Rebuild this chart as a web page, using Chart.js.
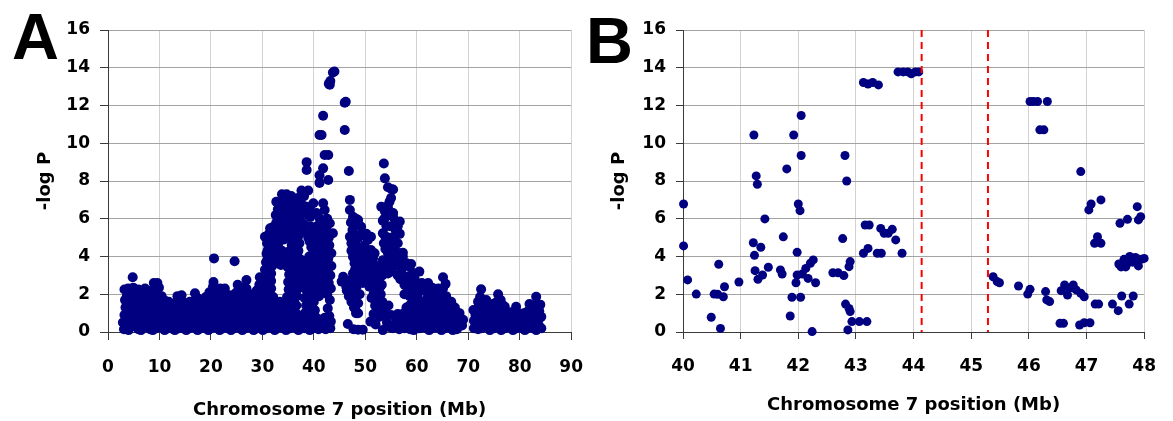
<!DOCTYPE html>
<html><head><meta charset="utf-8">
<script src="https://cdn.jsdelivr.net/npm/chart.js@4.4.1/dist/chart.umd.min.js"></script>
<style>
html,body{margin:0;padding:0;background:#fff;}
#wrap{position:relative;width:1173px;height:421px;overflow:hidden;background:#fff;}
canvas{position:absolute;top:0;}
#cA{left:0;}
#cB{left:583px;}
.lbl{position:absolute;font-family:'Liberation Sans',Arial,sans-serif;font-weight:bold;font-size:65px;line-height:65px;color:#000;}
</style></head><body>
<div id="wrap">
<canvas id="cA" width="600" height="421" style="width:600px;height:421px"></canvas>
<canvas id="cB" width="590" height="421" style="width:590px;height:421px"></canvas>
<div class="lbl" style="left:12px;top:4px;">A</div>
<div class="lbl" style="left:586px;top:8px;">B</div>
</div>
<script>
// ---- Data (position in Mb, -log P) ----
const ticksA_x = [0,10,20,30,40,50,60,70,80,90];
const ticksB_x = [40,41,42,43,44,45,46,47,48];
const ticks_y = [0,2,4,6,8,10,12,14,16];
const gapB = [44.14, 45.29];
const xTitle = 'Chromosome 7 position (Mb)';
const yTitle = '-log P';

const scanA_p = [
[2.9,0.5],[3.1,0.15],[3.2,0.9],[3.4,1.3],[3.3,1.7],[3.2,2.25],[3.9,2.3],
[4.0,0.1],[4.2,0.55],[4.1,1.0],[4.4,1.5],[4.8,2.9],[4.9,2.35],[4.6,1.9],
[5.3,0.3],[5.5,0.75],[5.4,1.2],[5.7,1.65],[5.9,2.25],
[6.4,0.1],[6.6,0.5],[6.5,0.95],[6.8,1.4],[6.9,1.9],[7.2,2.3],
[7.6,0.25],[7.8,0.7],[7.7,1.15],[8.0,1.6],[8.2,2.0],
[8.7,0.1],[8.9,0.55],[8.8,1.0],[9.0,1.45],[9.1,1.95],[9.2,2.45],[9.6,2.6],[8.9,2.6],
[9.9,0.3],[10.1,0.75],[10.0,1.2],[10.3,1.6],[10.4,1.9],
[11.0,0.1],[11.2,0.5],[11.1,0.95],[11.4,1.35],[11.8,1.6],
[12.2,0.3],[12.4,0.75],[12.3,1.2],
[13.0,0.1],[13.3,0.55],[13.1,1.0],[13.4,1.45],[13.6,1.7],
[14.2,0.3],[14.4,0.75],[14.3,1.2],[14.1,1.6],[14.3,1.95],
[15.2,0.1],[15.4,0.5],[15.3,0.95],[15.0,1.5],[15.9,1.6],
[16.3,0.3],[16.5,0.75],[16.4,1.2],[16.8,1.65],[16.9,2.05],
[17.4,0.1],[17.6,0.55],[17.5,1.0],[17.9,1.45],[18.0,1.6],
[18.6,0.3],[18.8,0.75],[18.7,1.2],[18.9,1.55],
[19.5,0.1],[19.7,0.55],[19.6,1.0],[19.8,1.4],[19.6,1.75],[19.7,2.1],[20.4,2.4],[20.5,2.65],[20.6,3.9],
[20.6,0.3],[20.8,0.75],[20.7,1.2],[21.0,1.6],[21.2,2.0],
[21.7,0.1],[21.9,0.55],[21.8,1.0],[22.0,1.4],[21.8,2.3],[22.2,1.85],
[22.8,0.3],[23.0,0.75],[22.9,1.2],[22.7,2.3],[23.1,1.65],
[23.9,0.1],[24.1,0.5],[24.0,0.95],[24.2,1.4],[24.3,1.9],[24.6,3.75],
[25.0,0.3],[25.2,0.75],[25.1,1.2],[25.4,1.65],[25.0,2.1],[25.2,2.5],
[26.1,0.1],[26.3,0.55],[26.2,1.0],[26.5,1.45],[26.4,1.9],[26.9,2.3],[26.9,2.75],
[27.2,0.3],[27.4,0.75],[27.3,1.2],[27.6,1.6],[27.8,2.0],
[28.3,0.1],[28.5,0.55],[28.4,1.0],[28.7,1.45],[28.8,1.85],[28.9,2.2],
[29.4,0.3],[29.6,0.75],[29.5,1.2],[29.5,1.65],[29.5,2.1],[29.4,2.5],[29.5,2.9]
];

const fillA_p = [
[3.6,0.3],[3.6,0.7],[3.7,1.1],[3.8,1.55],[3.7,1.95],
[4.7,0.3],[4.7,0.75],[4.8,1.2],[5.0,1.6],[5.2,2.0],
[5.9,0.15],[5.9,0.5],[6.0,0.9],[6.1,1.3],[6.3,1.75],[6.4,2.1],
[7.0,0.3],[7.1,0.75],[7.2,1.15],[7.4,1.55],[7.5,1.95],
[8.2,0.15],[8.3,0.45],[8.3,0.85],[8.4,1.25],[8.6,1.7],[8.5,2.2],
[9.4,0.2],[9.5,0.65],[9.5,1.05],[9.6,1.5],[9.9,1.85],[9.9,2.35],
[10.6,0.2],[10.6,0.55],[10.7,0.95],[10.8,1.35],[10.9,1.7],
[11.7,0.2],[11.7,0.75],[11.9,1.15],[12.2,1.5],
[12.7,0.15],[12.8,0.5],[12.8,0.95],[12.9,1.4],
[13.8,0.2],[13.8,0.65],[13.9,1.05],[13.8,1.45],[13.5,1.9],
[14.8,0.2],[14.9,0.65],[14.8,1.1],[14.7,1.55],
[15.9,0.2],[15.9,0.55],[15.9,1.0],[16.3,1.6],
[17.0,0.2],[17.0,0.65],[17.0,1.05],[17.3,1.45],[17.4,1.8],
[18.1,0.2],[18.2,0.65],[18.2,1.05],[18.4,1.45],
[19.1,0.2],[19.2,0.6],[19.2,1.05],[19.3,1.5],[19.0,1.85],
[20.1,0.2],[20.2,0.6],[20.2,1.05],[20.3,1.5],[20.2,1.95],
[21.3,0.2],[21.3,0.65],[21.3,1.05],[21.5,1.5],[21.6,1.95],
[22.4,0.2],[22.4,0.65],[22.4,1.05],[22.5,1.5],[22.6,1.95],
[23.4,0.2],[23.5,0.6],[23.5,1.05],[23.6,1.5],[23.6,1.95],
[24.6,0.2],[24.6,0.65],[24.6,1.05],[24.7,1.55],[24.6,2.0],
[25.7,0.2],[25.7,0.65],[25.7,1.05],[25.9,1.5],[25.8,1.95],[25.8,2.35],
[26.8,0.2],[26.8,0.65],[26.8,1.05],[27.0,1.5],[27.1,1.95],
[27.9,0.2],[27.9,0.65],[27.9,1.05],[28.1,1.5],[28.2,1.9],
[29.0,0.2],[29.0,0.65],[29.0,1.05],[29.1,1.5],[29.0,1.95]
];

const scanA_q = [
[30.1,0.1],[30.3,0.5],[30.2,0.9],[30.4,1.3],[30.3,1.7],[30.2,2.1],[30.4,2.5],[30.6,2.9],[30.5,3.3],[30.7,3.7],[30.8,4.15],[30.5,5.05],
[31.2,0.3],[31.4,0.75],[31.3,1.2],[31.5,1.6],[31.4,2.0],[31.2,2.4],[31.5,2.8],[31.3,3.2],[31.6,3.6],[31.4,4.0],[31.2,4.4],[31.5,4.8],[31.3,5.2],[31.5,5.5],[32.0,5.55],
[32.4,0.1],[32.6,0.55],[32.5,1.0],[32.3,1.45],[32.1,1.85],[32.1,3.6],[32.4,4.0],[32.6,4.45],[32.3,4.9],[32.6,5.3],[32.7,5.8],[32.6,6.2],[32.7,6.9],[33.0,6.5],
[33.5,0.3],[33.7,0.75],[33.6,1.2],[33.4,1.6],[33.6,3.55],[33.4,3.95],[33.8,4.3],[33.3,4.8],[33.6,5.2],[33.4,5.65],[33.7,6.05],[33.4,6.4],[33.6,6.8],[33.8,7.3],
[34.6,0.1],[34.8,0.5],[34.7,0.95],[34.9,1.4],[34.8,1.85],[35.1,2.25],[35.0,2.65],[35.2,3.05],[34.9,3.45],[35.2,3.85],[35.1,4.25],[35.3,5.0],[35.0,5.4],[34.7,5.7],[35.2,5.95],[34.9,6.35],[35.1,6.75],[34.7,7.3],[35.6,7.2],
[35.8,0.3],[36.0,0.75],[35.9,1.2],[36.2,1.6],[36.0,2.0],[36.3,2.4],[36.1,2.8],[36.3,3.2],[36.1,3.6],[36.4,4.0],[36.2,4.4],[36.5,4.8],[36.3,5.2],[36.0,5.6],[36.4,6.0],[36.2,6.4],[36.6,6.8],[36.9,7.1],
[37.0,0.1],[37.2,0.5],[36.9,0.9],[37.0,2.3],[37.2,2.7],[37.0,3.1],[37.3,3.5],[37.1,3.9],[37.0,4.3],[37.2,4.7],[37.0,5.1],[37.3,5.5],[37.1,5.9],[37.4,6.3],[37.3,7.0],[37.6,7.5],[37.6,6.7],
[38.2,0.2],[38.4,0.6],[38.3,1.0],[38.5,1.4],[38.2,1.8],[38.6,2.2],[38.4,2.6],[38.7,3.0],[38.5,3.4],[38.9,5.0],[38.3,5.65],[38.0,6.3],[38.9,6.2],[38.6,6.64],[38.9,7.5],[38.6,8.58],[38.6,9.0],
[39.2,0.1],[39.5,0.5],[39.3,0.9],[39.6,1.3],[39.4,1.7],[39.7,2.1],[39.5,2.5],[39.8,2.9],[39.6,3.3],[39.4,3.7],[39.7,4.1],[39.5,4.5],[39.8,4.9],[39.6,5.3],[39.9,6.82],
[40.1,0.35],[40.5,0.75],[40.2,1.15],[40.0,1.6],[40.1,2.0],[40.4,2.4],[40.2,2.9],[40.4,3.3],[40.3,3.8],[40.6,4.2],[40.4,4.6],[40.3,5.1],
[40.9,0.15],[41.6,0.4],[42.3,0.15],[42.8,0.55],[43.2,0.2],[41.0,1.9],[41.3,2.3],[41.1,2.7],[41.4,3.1],[41.2,3.5],[41.5,3.9],[41.3,4.3],[41.6,4.7],[41.4,5.05],
[41.1,6.02],[41.8,6.82],[42.1,6.46],[41.9,5.6],[42.2,5.2],[42.0,4.8],[42.3,4.4],[42.1,4.0],[42.4,3.6],[42.2,3.2],[42.5,2.8],[42.3,2.4],[42.6,2.0],
[42.8,4.52],[43.1,5.76],[43.7,5.23],[43.4,4.17],[42.9,5.0],[42.7,1.25],[43.0,0.85],[43.1,1.7],[43.3,2.3],[43.2,3.0],[43.4,3.5],
[41.1,10.44],[41.5,10.44],[41.8,11.46],[42.1,9.38],[42.8,9.38],[41.8,8.67],[41.1,8.3],[41.1,7.9],[42.8,8.05],
[43.1,13.1],[43.2,13.3],[43.7,13.75],[44.0,13.8],[42.9,13.15],
[45.7,2.93],[45.4,2.67],[46.0,12.15],[46.2,12.2],[46.0,10.7],[46.3,2.4],[46.6,0.42],
[46.4,2.2],[46.8,1.9],[47.3,1.6],[47.8,1.3],[48.2,1.0],[46.6,2.4],[47.0,2.05],[47.6,1.7],[47.9,1.7],[48.3,2.4],[48.9,2.0],[49.5,2.6],
[48.6,1.52],[48.0,1.25],[48.6,0.99],[48.6,0.12],[49.5,0.12],[47.7,0.15],
[46.8,8.53],[47.0,7.0],[47.0,6.46],[47.6,6.11],[48.6,5.93],[49.2,5.58],[48.0,5.66],[47.0,5.05],[47.3,4.7],[47.6,3.99],[47.9,3.64],[48.6,3.46],[49.2,3.11],
[47.3,4.3],[47.5,5.4],[48.2,6.0],[48.3,4.0],[48.5,3.0],[48.0,2.6],[47.3,2.4],[46.8,2.7],[48.9,4.4],[48.6,5.0],[49.0,3.8],
[49.5,5.23],[50.5,4.87],[51.1,5.05],[51.1,4.34],[51.8,4.17],[50.2,5.2],[49.8,4.6],[50.3,4.2],[50.8,3.8],[50.2,3.4],[51.3,3.6],[51.8,3.1],[50.6,3.0],[49.9,2.9],
[50.8,2.4],[51.3,2.6],[51.6,2.0],[52.2,2.4],[52.8,2.9],[52.5,3.5],[52.3,3.3],[52.2,1.6],[51.2,1.8],[51.0,0.55],[52.0,0.4],[52.7,0.8],[51.6,0.95],[52.6,1.25],
[53.6,8.93],[53.8,8.14],[54.4,7.67],[55.1,7.56],[55.4,7.55],[54.4,6.6],[53.8,6.4],[53.4,5.9],[55.4,6.3],[56.7,5.85],[56.7,5.2],[56.3,4.7],[57.3,4.2],
[53.1,6.64],[54.1,6.64],[55.4,6.11],[55.7,5.7],[56.4,5.23],[53.4,5.23],[53.6,4.7],[54.4,4.17],[55.7,4.52],[56.7,4.17],[57.3,3.99],[54.1,5.6],[54.8,5.0],[55.3,4.9],
[53.4,3.8],[54.0,3.4],[53.3,3.0],[54.6,3.6],[55.1,3.2],[56.0,3.7],[53.9,4.4],[55.0,4.3],[55.8,5.1],[56.2,4.2],[56.8,2.8],[57.0,3.3],[56.3,3.0],
[53.2,2.5],[53.0,2.0],[53.3,1.6],[53.8,1.2],[54.5,1.4],[55.0,0.9],[53.4,0.1],[54.2,0.5],[55.3,0.2],[56.0,0.55],[56.6,0.15],[56.3,0.95],[57.2,0.6],[57.5,1.0],
[58.0,3.64],[58.6,3.46],[59.3,3.11],[58.9,3.6],[57.9,2.9],[58.2,2.4],[59.0,2.7],[59.8,2.4],[57.6,2.0],[58.6,1.9],[59.5,1.8],[58.2,0.3],[58.8,0.75],[58.0,1.3],[59.1,1.25],[59.4,0.1],[59.9,0.55],[60.0,1.0]
];

const fillA_q = [
[30.9,0.2],[30.9,0.6],[30.9,1.0],[30.9,1.45],[30.9,1.85],[30.9,2.25],[31.0,2.65],[31.0,3.05],[31.0,3.45],[31.0,3.85],[31.0,4.3],[30.9,4.7],
[31.9,0.2],[31.9,0.6],[31.9,1.0],[31.9,1.45],[31.8,1.85],[31.7,2.3],[31.7,2.7],[31.7,3.1],[31.9,3.5],[31.9,3.9],[31.9,4.3],[31.9,4.7],[32.0,5.1],
[33.0,0.2],[33.0,0.6],[33.0,1.05],[33.0,1.5],[32.9,3.8],[33.0,4.2],[33.0,4.6],[33.0,5.0],[33.0,5.4],[33.1,5.85],[33.2,6.2],
[34.1,0.2],[34.1,0.6],[34.1,1.05],[34.1,1.5],[34.3,3.6],[34.2,4.0],[34.2,4.9],[34.1,5.3],[34.1,5.75],[34.2,6.15],[34.2,6.6],[34.2,7.0],
[35.4,0.2],[35.4,0.6],[35.4,1.0],[35.5,1.4],[35.6,1.8],[35.6,2.6],[35.6,3.4],[35.7,4.2],[35.7,4.6],[35.8,5.4],[35.6,6.2],[35.7,6.9],
[36.6,0.2],[36.6,0.6],[36.5,1.0],[36.6,1.4],[36.7,1.9],[36.7,2.6],[36.7,3.4],[36.8,4.2],[36.8,5.0],[36.7,5.7],[36.9,6.5],
[37.7,0.2],[37.8,0.65],[37.7,2.5],[37.8,2.9],[37.8,3.3],[37.7,3.8],[37.8,5.3],[37.7,5.8],[37.9,6.7],[38.1,7.2],
[38.9,0.2],[38.9,0.6],[38.8,1.0],[39.0,1.5],[38.9,1.9],[39.0,2.4],[39.1,2.8],[39.0,3.2],[39.1,4.0],[39.2,4.8],[39.3,5.6],[39.3,6.1],[39.2,6.6],
[39.9,0.2],[39.9,0.6],[40.0,1.0],[40.6,1.9],[40.7,2.7],[40.7,3.4],[40.9,3.9],[40.8,4.6],[40.6,5.6],[40.9,5.2],[40.5,6.3],
[41.3,0.5],[41.9,0.2],[40.6,0.35],[41.8,2.2],[41.9,3.0],[41.8,3.8],[41.9,4.5],[41.7,5.4],[42.7,3.3],[42.9,2.6],[42.8,3.9],[42.5,5.6],[42.6,6.0],[43.3,0.55],[42.6,0.5],[43.0,4.6],[42.1,0.75],
[47.2,5.8],[47.8,5.2],[48.0,4.7],[48.4,4.5],[48.0,3.3],[47.6,3.1],[47.4,2.8],[48.9,3.4],[49.4,4.1],[49.0,5.1],[48.4,2.8],[47.8,2.2],
[50.0,3.8],[50.6,3.4],[50.9,4.3],[51.5,3.9],[51.3,3.0],[50.3,2.6],[51.7,2.4],[52.0,2.8],[52.4,2.0],[51.9,1.4],[52.6,1.7],[53.0,1.1],
[53.7,6.0],[54.3,6.2],[54.7,6.9],[55.0,7.1],[54.9,5.6],[55.9,5.4],[56.3,5.6],[55.5,4.1],[54.7,4.0],[54.4,4.8],[53.8,5.1],[53.7,3.1],[54.4,3.1],[55.5,3.5],[56.5,3.5],[53.0,3.4],[52.9,2.4],
[54.0,0.9],[54.8,0.25],[55.7,0.4],[56.9,0.35],[57.6,0.2],[56.8,0.8],
[57.4,3.6],[57.6,2.5],[58.4,2.95],[59.0,2.2],[59.6,2.8],[59.7,3.1],[58.6,1.4],[59.5,1.4],[58.3,0.9],[57.9,0.6],[60.0,1.6],[59.3,0.5],[58.7,0.15],[60.3,0.2]
];

const scanA_r = [
[60.5,3.2],[60.2,2.0],[61.0,2.6],[60.8,1.6],[61.5,2.2],[61.8,1.7],[61.2,0.3],[61.5,0.75],[61.3,1.2],[62.2,2.6],
[62.4,0.1],[62.6,0.55],[62.5,1.0],[62.7,1.45],[62.6,1.9],[63.0,2.35],[63.6,0.3],[63.8,0.75],[63.7,1.2],[63.9,1.6],[63.8,2.0],[64.2,2.3],
[64.8,0.1],[65.0,0.55],[64.9,1.0],[65.1,1.45],[65.0,1.9],[65.1,2.3],[65.1,2.9],[65.9,0.3],[66.1,0.75],[66.0,1.2],[66.3,1.55],[66.7,1.6],
[67.0,0.1],[67.2,0.55],[67.1,1.0],[67.4,1.3],[67.8,0.15],[68.1,0.4],[68.3,0.7],[68.3,1.0],[68.8,0.35],[69.0,0.65],
[71.1,0.2],[71.1,0.6],[71.0,1.17],[71.4,0.9],[71.9,0.15],[71.9,1.6],[72.0,0.5],[71.8,1.25],[72.5,2.26],[72.3,1.85],
[73.1,0.3],[73.3,0.75],[73.2,1.2],[73.5,1.7],[74.2,0.1],[74.4,0.55],[74.3,1.0],[74.5,1.3],
[75.3,0.3],[75.5,0.75],[75.4,1.2],[75.6,1.6],[75.8,2.0],[76.4,0.1],[76.6,0.55],[76.5,1.0],[76.8,1.4],[77.1,1.34],
[77.6,0.3],[77.8,0.75],[77.7,1.0],[78.7,0.1],[78.9,0.55],[78.8,0.95],[79.3,1.34],[79.9,0.3],[80.1,0.75],
[81.0,0.1],[81.2,0.55],[81.1,1.0],[81.9,1.48],[82.1,0.3],[82.3,0.75],[82.2,1.15],[83.2,1.87],
[83.2,0.1],[83.4,0.5],[83.3,1.0],[83.8,1.1],[84.2,0.2],[84.2,0.81],[84.0,1.45]
];

const fillA_r = [
[60.6,0.2],[60.4,0.6],[60.3,1.0],[60.4,1.4],[60.8,2.3],[61.8,0.2],[61.9,0.6],[61.9,1.0],[61.9,1.4],[62.0,2.1],
[63.1,0.2],[63.1,0.6],[63.1,1.0],[63.2,1.45],[63.3,1.9],[64.3,0.2],[64.3,0.6],[64.4,1.0],[64.4,1.45],[64.5,1.9],
[65.5,0.2],[65.5,0.6],[65.5,1.0],[65.6,1.45],[65.7,1.9],[65.6,2.55],[66.6,0.2],[66.6,0.6],[66.6,1.0],[66.8,1.3],
[67.6,0.35],[67.7,0.75],[67.8,1.05],
[72.6,0.2],[72.6,0.6],[72.7,1.0],[72.8,1.45],[73.9,0.3],[73.9,0.75],[73.9,1.15],[74.0,1.5],
[75.0,0.2],[75.0,0.55],[74.9,0.95],[75.0,1.5],[76.1,0.3],[76.0,0.75],[76.1,1.2],[76.3,1.7],
[77.2,0.2],[77.2,0.6],[77.3,1.0],[78.3,0.3],[78.3,0.7],[78.3,1.05],[79.4,0.2],[79.4,0.6],[79.6,1.0],
[80.5,0.2],[80.6,0.45],[80.8,1.0],[81.6,0.2],[81.6,0.6],[81.6,1.1],[82.7,0.2],[82.7,0.55],[82.8,0.95],[82.9,1.4],
[83.8,0.3],[83.8,0.7]
];

const scanB = [
[40.01,6.78],[40.01,4.56],[40.08,2.76],[40.23,2.01],[40.49,0.78],[40.54,2.01],[40.60,2.0],[40.62,3.59],[40.65,0.19],[40.70,1.87],[40.72,2.40],[40.97,2.65],
[41.23,10.44],[41.27,8.27],[41.29,7.83],[41.22,4.73],[41.24,4.06],[41.25,3.25],[41.35,4.49],[41.30,2.79],[41.38,3.02],[41.42,5.99],[41.48,3.43],
[41.69,3.29],[41.72,3.07],[41.74,5.04],[41.80,8.64],[41.86,0.85],[41.89,1.84],[41.92,10.44],[41.96,2.61],[41.98,4.22],[41.98,3.02],[42.00,6.78],[42.03,6.43],[42.05,11.47],[42.05,9.35],[42.04,1.84],[42.07,3.07],
[42.13,3.37],[42.17,2.84],[42.21,3.64],[42.24,0.02],[42.26,3.82],[42.30,2.61],
[42.60,3.14],[42.69,3.14],[42.77,4.95],[42.79,2.99],[42.81,9.35],[42.84,8.00],[42.82,1.48],[42.86,0.11],[42.88,1.25],[42.90,1.08],[42.88,3.46],[42.90,3.73],[42.93,0.55],[43.06,0.55],[43.19,0.55],
[43.13,4.17],[43.21,4.43],[43.37,4.17],[43.44,4.17],[43.16,5.67],[43.23,5.67],
[43.13,13.22],[43.21,13.14],[43.29,13.22],[43.39,13.09],
[43.43,5.49],[43.49,5.23],[43.56,5.23],[43.63,5.44],[43.69,4.88],[43.80,4.17],
[43.73,13.78],[43.82,13.78],[43.90,13.78],[43.96,13.68],[44.03,13.78],[44.09,13.78],
[45.38,2.93],[45.45,2.67],[45.49,2.61],[45.82,2.44],[45.98,2.01],[46.02,2.26],
[46.02,12.21],[46.08,12.21],[46.15,12.21],[46.32,12.21],[46.19,10.71],[46.26,10.71],
[46.29,2.14],[46.31,1.70],[46.36,1.61],[46.54,0.46],[46.60,0.46],[46.56,2.19],[46.62,2.49],[46.67,1.96],[46.70,2.31],[46.77,2.49],[46.82,2.23],[46.90,2.05],[46.96,1.87],[46.90,8.50],[46.88,0.37],[46.96,0.49],[47.06,0.49],
[47.04,6.47],[47.08,6.78],[47.14,4.70],[47.19,5.05],[47.25,4.70],[47.25,7.0],[47.15,1.48],[47.21,1.48],
[47.45,1.48],[47.55,1.13],[47.61,1.91],[47.74,1.48],[47.81,1.91],[47.58,5.76],[47.71,5.97],[47.88,6.64],[47.94,6.11],[47.90,5.94],
[47.56,3.6],[47.60,3.45],[47.65,3.85],[47.70,3.6],[47.75,4.0],[47.80,3.7],[47.85,3.95],[47.90,3.5],[47.95,3.85],[48.00,3.9],[47.68,3.45],[47.88,3.75]
];

// ---- Styling / builder ----
const NAVY = '#000080';
const DARK = '#3a3a3a';
const tickFont = {family: "'DejaVu Sans', sans-serif", weight: 'bold', size: 17};
const titleFont = {family: "'DejaVu Sans', sans-serif", weight: 'bold', size: 18};

function build(id, points, xTicks, bounds, geo) {
  const datasets = [];
  bounds.forEach(b => datasets.push({
    type: 'line',
    data: [{x: b, y: ticks_y[ticks_y.length - 1]}, {x: b, y: ticks_y[0]}],
    showLine: true, borderColor: '#ff0000', borderWidth: 2, borderDash: [7, 5],
    pointRadius: 0, fill: false, order: 0, clip: false
  }));
  datasets.push({
    type: 'scatter',
    data: points.map(p => ({x: p[0], y: p[1]})),
    backgroundColor: NAVY, borderColor: NAVY, borderWidth: 0,
    pointRadius: geo.r, pointHoverRadius: geo.r, clip: false, order: 1
  });
  return new Chart(document.getElementById(id), {
    type: 'scatter',
    data: {datasets},
    options: {
      responsive: false, animation: false, devicePixelRatio: 1,
      events: [],
      layout: {padding: {left: 0, top: 30, right: geo.padRight, bottom: 0}},
      plugins: {legend: {display: false}, tooltip: {enabled: false}},
      scales: {
        x: {
          type: 'linear', min: xTicks[0], max: xTicks[xTicks.length - 1],
          afterBuildTicks: s => { s.ticks = xTicks.map(v => ({value: v})); },
          afterFit: s => { s.height = 89; },
          grid: {
            color: c => (c.tick && c.tick.value === xTicks[0]) ? DARK : '#d2d2d2',
            lineWidth: 1, tickColor: DARK, tickLength: geo.tickLen, drawTicks: true
          },
          border: {display: true, color: DARK, width: 1},
          ticks: {font: tickFont, color: '#000', padding: 17, maxRotation: 0, autoSkip: false},
          title: {display: true, text: xTitle, font: titleFont, color: '#000', padding: {top: 0, bottom: geo.xTitlePad}}
        },
        y: {
          type: 'linear', min: ticks_y[0], max: ticks_y[ticks_y.length - 1],
          afterBuildTicks: s => { s.ticks = ticks_y.map(v => ({value: v})); },
          afterFit: s => { s.width = geo.yAxisW; },
          grid: {
            color: c => (c.tick && c.tick.value === ticks_y[0]) ? DARK : '#a3a3a3',
            lineWidth: 1, tickColor: DARK, tickLength: geo.tickLen, drawTicks: true
          },
          border: {display: true, color: DARK, width: 1},
          ticks: {font: tickFont, color: '#000', padding: 10, autoSkip: false},
          title: {display: true, text: yTitle, font: titleFont, color: '#000', padding: {top: geo.yTitlePad, bottom: 0}}
        }
      }
    }
  });
}

build('cA', [...scanA_p, ...fillA_p, ...scanA_q, ...fillA_q, ...scanA_r, ...fillA_r], ticksA_x, [],
      {padRight: 28, yAxisW: 108, tickLen: 8, yTitlePad: 35, xTitlePad: 0, r: 5});
build('cB', scanB, ticksB_x, gapB,
      {padRight: 26, yAxisW: 100, tickLen: 7, yTitlePad: 26, xTitlePad: 5, r: 4.5});
</script>
</body></html>
